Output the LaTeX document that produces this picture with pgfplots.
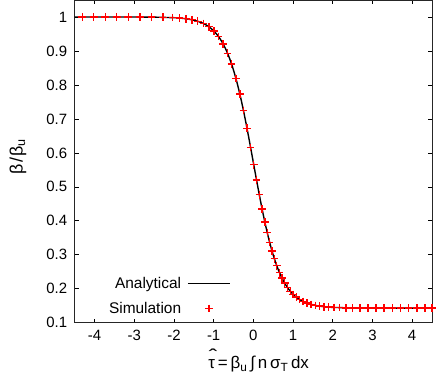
\documentclass[border=0pt]{standalone}
\usepackage{fontspec}
\setmainfont{Liberation Sans}
\usepackage{pgfplots}
\pgfplotsset{compat=1.18}

\newcommand{\tauhat}{\makebox[0pt][l]{\raisebox{0.36em}{\kern0.02em\scalebox{1.5}[1.1]{ˆ}}}τ}

\begin{document}
\begin{tikzpicture}
\begin{axis}[
    name=ax,
    scale only axis,
    width=357.3bp,
    height=322.7bp,
    xmin=-4.5, xmax=4.5,
    ymin=0.1, ymax=1.05,
    xtick={-4,-3,-2,-1,0,1,2,3,4},
    ytick={0.1,0.2,0.3,0.4,0.5,0.6,0.7,0.8,0.9,1},
    tick align=inside,
    major tick length=4bp,
    tick style={black, line width=0.6pt},
    axis line style={line width=0.8pt, black!85},
    /pgf/number format/assume math mode=true,
    tick label style={font=\fontsize{15}{17}\selectfont},
    xticklabel style={yshift=-4bp},
    yticklabel style={xshift=-4bp},
    xlabel={\tauhat\,=\,β\textsubscript{u}\,∫\,n\,σ\textsubscript{T}\,dx},
    ylabel={β\kern1bp/\kern1bpβ\textsubscript{u}},
    xlabel style={font=\fontsize{17}{19}\selectfont,
        at={(axis description cs:0.515,-0.118)}, anchor=center},
    ylabel style={font=\fontsize{18}{20}\selectfont,
        at={(axis description cs:-0.159,0.515)}, anchor=center},
    legend plot pos=right,
    legend cell align=right,
    legend image code/.code={%
        \draw[mark repeat=2, mark phase=2, #1]
            plot coordinates {(0bp,0bp) (21bp,0bp) (42bp,0bp)};},
    legend style={draw=none, fill=none,
        at={(axis description cs:0.445,0.012)}, anchor=south east,
        font=\fontsize{15.5}{17}\selectfont,
        row sep=8bp, column sep=4bp},
]
% Analytical curve
\addplot[black, line width=1.4pt, smooth, mark=none] coordinates {
(-4.5,1.0000) (-4.0,1.0000) (-3.5,1.0000) (-3.0,0.9999) (-2.5,0.9995)
(-2.0,0.9979) (-1.9,0.9971) (-1.8,0.9961) (-1.7,0.9948) (-1.6,0.9930)
(-1.5,0.9906) (-1.4,0.9873) (-1.3,0.9830) (-1.2,0.9772) (-1.1,0.9695)
(-1.0,0.9593) (-0.9,0.9460) (-0.8,0.9287) (-0.7,0.9065) (-0.6,0.8784)
(-0.5,0.8437) (-0.4,0.8016) (-0.3,0.7523) (-0.2,0.6964) (-0.1,0.6353)
(0.0,0.5715) (0.1,0.5077) (0.2,0.4467) (0.3,0.3907) (0.4,0.3414)
(0.5,0.2993) (0.6,0.2646) (0.7,0.2365) (0.8,0.2143) (0.9,0.1970)
(1.0,0.1836) (1.1,0.1735) (1.2,0.1658) (1.3,0.1600) (1.4,0.1557)
(1.5,0.1524) (1.6,0.1500) (1.7,0.1482) (1.8,0.1469) (1.9,0.1459)
(2.0,0.1451) (2.5,0.1435) (3.0,0.1431) (3.5,0.1430) (4.0,0.1430) (4.5,0.1430)
};
% Simulation points
\addplot[only marks, mark=+, mark size=3.8bp, color=red,
    mark options={draw=red, solid, line width=1.4pt}] coordinates {
(-4.31,1.0000) (-4.02,1.0000) (-3.73,1.0000) (-3.44,1.0000) (-3.15,0.9999)
(-2.86,0.9998) (-2.57,0.9996) (-2.28,0.9991) (-2.03,0.9980) (-1.86,0.9968)
(-1.70,0.9948) (-1.55,0.9919) (-1.40,0.9873) (-1.26,0.9809) (-1.12,0.9713)
(-0.99,0.9582) (-0.88,0.9429) (-0.76,0.9205) (-0.65,0.8932) (-0.55,0.8620)
(-0.44,0.8193) (-0.34,0.7729) (-0.25,0.7250) (-0.16,0.6724) (-0.07,0.6163)
(0.01,0.5650) (0.08,0.5203) (0.15,0.4767) (0.22,0.4350) (0.29,0.3960)
(0.35,0.3652) (0.41,0.3368) (0.47,0.3112) (0.53,0.2882) (0.59,0.2677)
(0.66,0.2470) (0.72,0.2316) (0.79,0.2163) (0.86,0.2034) (0.93,0.1926)
(1.00,0.1836) (1.08,0.1753) (1.16,0.1686) (1.25,0.1627) (1.35,0.1577)
(1.45,0.1539) (1.56,0.1509) (1.67,0.1487) (1.78,0.1471) (1.90,0.1459)
(2.03,0.1449) (2.17,0.1443) (2.33,0.1438) (2.50,0.1435) (2.69,0.1433)
(2.89,0.1432) (3.09,0.1431) (3.29,0.1430) (3.50,0.1430) (3.71,0.1430)
(3.91,0.1430) (4.12,0.1430) (4.32,0.1430) (4.50,0.1430)
};
\legend{Analytical, Simulation}
\end{axis}
\pgfresetboundingbox
\path ([shift={(-74.7bp,-53.3bp)}]ax.south west) rectangle ([xshift=4bp]ax.north east);
\end{tikzpicture}
\end{document}
